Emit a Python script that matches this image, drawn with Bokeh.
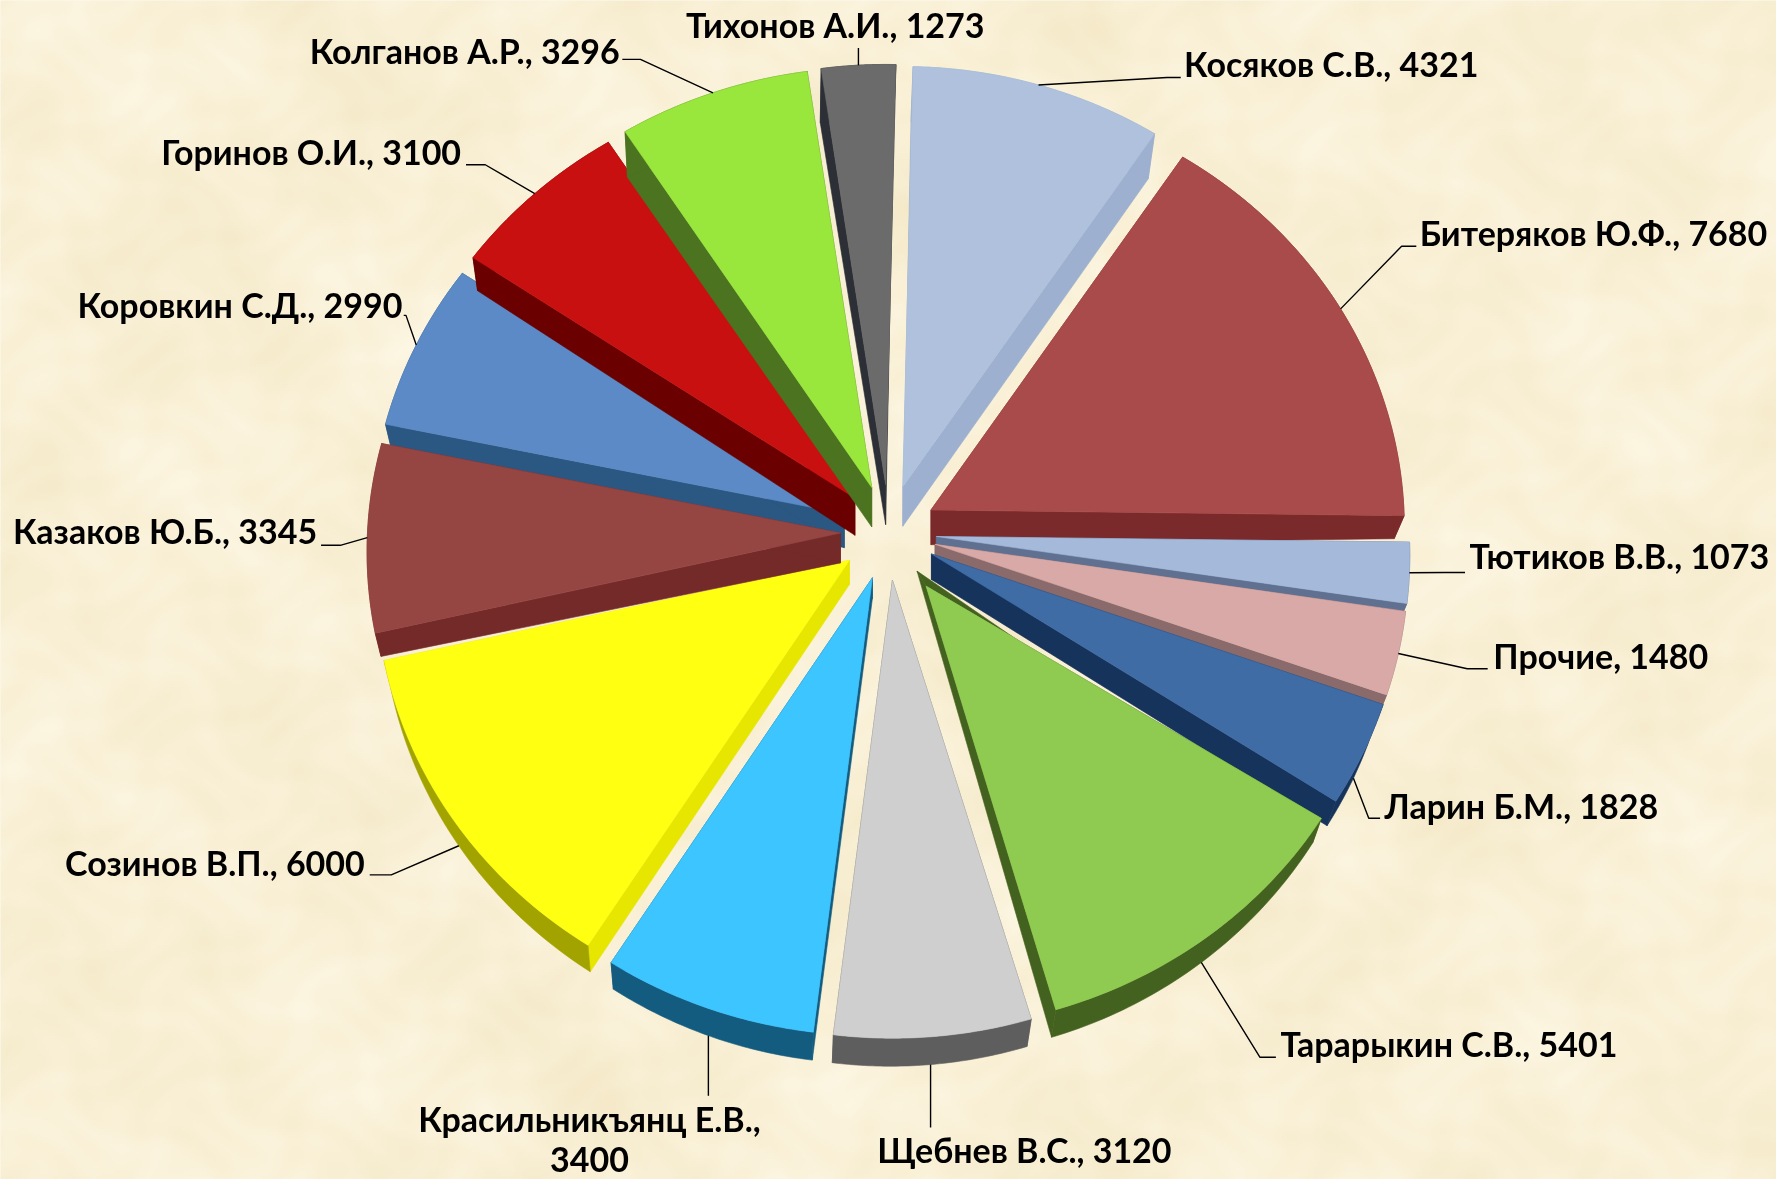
import numpy as np
from bokeh.plotting import figure
from bokeh.models import Range1d
from bokeh.core.properties import value
from bokeh.embed import file_html
from bokeh.resources import INLINE

W, H = 1776, 1179

# ---- data, clockwise from 12 o'clock
names = ["Косяков С.В.", "Битеряков Ю.Ф.", "Тютиков В.В.", "Прочие", "Ларин Б.М.",
         "Тарарыкин С.В.", "Щебнев В.С.", "Красильникъянц Е.В.", "Созинов В.П.",
         "Казаков Ю.Б.", "Коровкин С.Д.", "Горинов О.И.", "Колганов А.Р.", "Тихонов А.И."]
values = [4321, 7680, 1073, 1480, 1828, 5401, 3120, 3400, 6000, 3345, 2990, 3100, 3296, 1273]

top_colors = ["#AFC1DC", "#A94B4B", "#A5B9DB", "#D9A9A8", "#3F6CA5", "#8FCB50", "#CFCFCF",
              "#3CC5FF", "#FFFF12", "#954643", "#5B8AC6", "#C81010", "#99E63C", "#6B6B6B"]
rim_colors = ["#9DB0CF", "#7A2A2A", "#5F7090", "#8A6A6A", "#16335C", "#44621F", "#5E5E5E",
              "#145C7F", "#A3A300", "#752A2A", "#2B5783", "#6A0000", "#4C7420", "#2C2F36"]
radial_colors = ["#9DB0CF", "#7A2A2A", "#5F7090", "#8A6A6A", "#16335C", "#44621F", "#5E5E5E",
                 "#145C7F", "#E6E600", "#752A2A", "#2B5783", "#6A0000", "#4C7420", "#2C2F36"]
draw_order = [8, 10, 9, 11, 12, 13, 0, 1, 2, 3, 4, 5, 6, 7]

# ---- pie geometry
CX, CY = 888, 532
EXPLODE = 48
RX0, RY0, K = 473, 439, 0.043
START = 1.3
BG = (249, 240, 214)
top_apex_inset = {5: (9, 15)}


def rim_vec(deg):
    th = np.radians(deg)
    u, v = np.sin(th), -np.cos(th)
    s = 1 + K * v
    return RX0 * u * s, RY0 * v * s


def rim_depth(deg):
    """How far the underside of the rim sits below the top face: (dx, dy)."""
    th = np.radians(deg)
    u, v = np.sin(th), -np.cos(th)
    dy = 23 + (32 * v * v if v < 0 else 5 * v * v)
    return -8 * u - 2, dy


def apex_depth(deg):
    return 30 - 10 * (-np.cos(np.radians(deg)))


vals = np.array(values, dtype=float)
edges = START + np.concatenate([[0], np.cumsum(vals)]) / vals.sum() * 360
mids = (edges[:-1] + edges[1:]) / 2


def apex(i):
    th = np.radians(mids[i])
    return CX + EXPLODE * np.sin(th), CY - EXPLODE * np.cos(th)


def arc(i):
    ax, ay = apex(i)
    d = np.linspace(edges[i], edges[i + 1], 50)
    r = np.array([rim_vec(a) for a in d])
    o = np.array([rim_depth(a) for a in d])
    return ax + r[:, 0], ay + r[:, 1], ax + r[:, 0] + o[:, 0], ay + r[:, 1] + o[:, 1]


xs, ys, fills = [], [], []
for i in draw_order:
    ax, ay = apex(i)
    ad = apex_depth(mids[i])
    x, y, bx, by = arc(i)
    ix, iy = top_apex_inset.get(i, (0, 0))
    for end in (0, -1):
        xs.append([ax + ix, x[end], bx[end], ax])
        ys.append([ay + iy, y[end], by[end], ay + (ad if not ix else 0)])
        fills.append(radial_colors[i])
    xs.append(list(x) + list(bx[::-1]))
    ys.append(list(y) + list(by[::-1]))
    fills.append(rim_colors[i])
    xs.append([ax + ix] + list(x))
    ys.append([ay + iy] + list(y))
    fills.append(top_colors[i])

# ---- parchment background (smooth, deterministic mottling)
gx, gy = np.meshgrid(np.arange(0, W, 3), np.arange(0, H, 3))
n = (np.sin(gx / 37 + 1.3 * np.sin(gy / 53)) * np.sin(gy / 29 + 1.7 * np.sin(gx / 71))
     + 0.7 * np.sin(gx / 13 + 2 * np.sin(gy / 19)) * np.sin(gy / 11 + 2 * np.sin(gx / 23))
     + 0.5 * np.sin((gx + gy) / 97) + 0.5 * np.sin((gx - gy) / 61))
rgba = np.zeros(gx.shape, dtype=np.uint32)
view = rgba.view(dtype=np.uint8).reshape(gx.shape + (4,))
view[..., 0] = np.clip(BG[0] + 1.5 * n, 0, 255)
view[..., 1] = np.clip(BG[1] + 2.5 * n, 0, 255)
view[..., 2] = np.clip(BG[2] + 5.0 * n, 0, 255)
view[..., 3] = 255

p = figure(width=W, height=H, x_range=Range1d(0, W), y_range=Range1d(H, 0),
           output_backend="svg", toolbar_location=None, min_border=0,
           background_fill_color="#F9F0D6", border_fill_color="#F9F0D6")
p.axis.visible = False
p.grid.visible = False
p.outline_line_color = None
p.styles = {"position": "fixed", "left": "0px", "top": "0px"}

p.image_rgba(image=[rgba], x=0, y=0, dw=W, dh=H)
p.patches(xs, ys, fill_color=fills, line_color=fills, line_width=0.6)

# ---- labels: left x, centre y, elbow x/y, leader end x (reference px at 1568 wide)
S = 1776 / 1568
TY = -2
label_pos = {
    0: (1045, 58, 1030, 68, 1042),
    1: (1253, 207, 1237, 217, 1250),
    2: (1297, 492, 1275, 505, 1293),
    3: (1318, 580, 1295, 590, 1313),
    4: (1222, 713, 1208, 722, 1218),
    5: (1130, 923, 1112, 933, 1126),
    8: (57, 763, 345, 772, 326),
    9: (11, 470, 300, 481, 283),
    10: (68, 270, 358, 278, 356),
    11: (142, 135, 428, 145, 411),
    12: (273, 46, 565, 52, 549),
}
font = value("Lato")
FS = "34px"
style = dict(text_font=font, text_font_style="bold", text_font_size=FS,
             text_baseline="middle", text_color="black")
lx, ly = [], []
for i in range(len(values)):
    ax, ay = apex(i)
    r = rim_vec(mids[i])
    o = rim_depth(mids[i])
    rimx, rimy = ax + r[0], ay + r[1]
    if 105 < mids[i] < 260:
        rimx += o[0]
        rimy += o[1]
    if i in label_pos:
        tx, ty, ex, ey, ox = label_pos[i]
        lx.append([rimx, ex * S, ox * S])
        ly.append([rimy, ey * S, ey * S])
        p.text([tx * S], [(ty + TY) * S], text=[f"{names[i]}, {values[i]}"], text_align="left", **style)
    elif i == 6:
        lx.append([rimx, rimx])
        ly.append([rimy, 995 * S])
        p.text([904 * S], [(1016 + TY) * S], text=[f"{names[i]}, {values[i]}"], text_align="center", **style)
    elif i == 7:
        lx.append([rimx, rimx])
        ly.append([rimy, 967 * S])
        p.text([520 * S], [(989 + TY) * S], text=[f"{names[i]},"], text_align="center", **style)
        p.text([520 * S], [(1025 + TY) * S], text=[f"{values[i]}"], text_align="center", **style)
    elif i == 13:
        lx.append([rimx, rimx])
        ly.append([rimy, 42 * S])
        p.text([737 * S], [(23 + TY) * S], text=[f"{names[i]}, {values[i]}"], text_align="center", **style)

p.multi_line(lx, ly, line_color="black", line_width=1.4)

open("out.html", "w").write(file_html(p, INLINE))
